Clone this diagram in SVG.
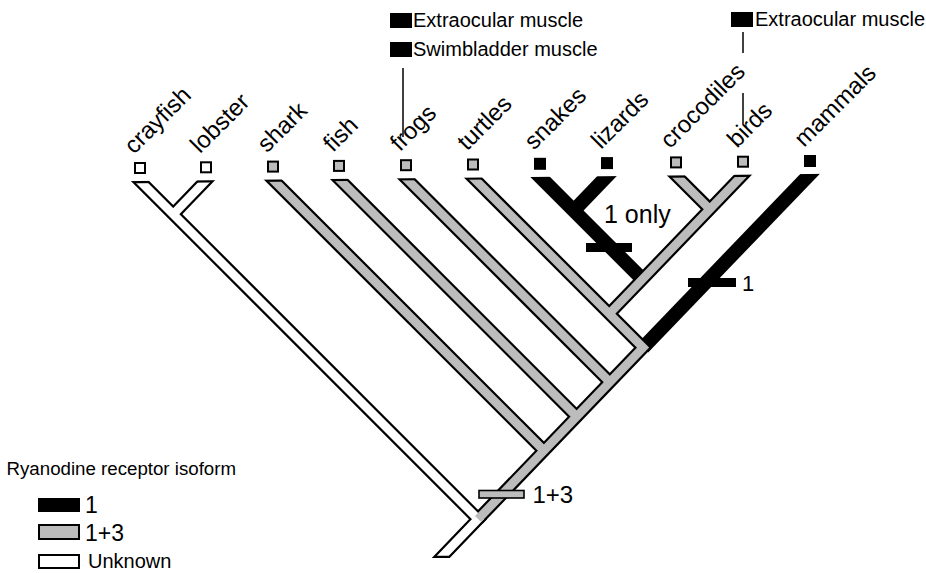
<svg xmlns="http://www.w3.org/2000/svg" width="926" height="573" viewBox="0 0 926 573">
<style>
text{font-family:"Liberation Sans",Arial,Helvetica,sans-serif;fill:#000}
.lab{font-size:24px}
.small{font-size:20px}
.o{fill:none;stroke:#000;stroke-width:13;stroke-linejoin:miter;stroke-miterlimit:4}
.b{fill:none;stroke:#000;stroke-width:14;stroke-linejoin:miter;stroke-miterlimit:4}
.fw{fill:none;stroke:#fff;stroke-width:8.6;stroke-linejoin:miter;stroke-miterlimit:4}
.fg{fill:none;stroke:#bcbcbc;stroke-width:8.6;stroke-linejoin:miter;stroke-miterlimit:4}
.sq{stroke:#000;stroke-width:2}
.w{fill:#fff}.g{fill:#bcbcbc}.k{fill:#000}
.cn{stroke:#000;stroke-width:1.5;fill:none}
</style>
<defs>
<clipPath id="co"><polygon points="0,182.5 926,172.8 926,558 0,558"/></clipPath>
<clipPath id="ci"><polygon points="0,184.7 926,175 926,555.8 0,555.8"/></clipPath>
</defs>
<g id="connectors">
<g clip-path="url(#co)">
<path class="o" d="M128,169 L478.1,519.1 L434,565"/>
<path class="o" d="M218,167.8 L173.3,214.3"/>
<path class="o" d="M261,167.6 L544,450.6"/>
<path class="o" d="M327,166.9 L576.7,416.6"/>
<path class="o" d="M394,166.2 L609.9,382.1"/>
<path class="o" d="M461,165.5 L643.1,347.6 L478.1,519.1"/>
<path class="o" d="M664,163.4 L709.8,209.2"/>
<path class="o" d="M755,162.2 L709.8,209.2 L642.5,279.3 L609.3,313.8"/>
<path class="b" d="M528,164.8 L573.8,210.6 L642.5,279.3"/>
<path class="b" d="M619,163.6 L573.8,210.6"/>
<path class="b" d="M822,161.5 L643.1,347.6"/>
</g>
<g clip-path="url(#ci)">
<path class="fw" d="M128,169 L478.1,519.1 L434,565"/>
<path class="fw" d="M218,167.8 L173.3,214.3"/>
<path class="fg" d="M261,167.6 L544,450.6"/>
<path class="fg" d="M327,166.9 L576.7,416.6"/>
<path class="fg" d="M394,166.2 L609.9,382.1"/>
<path class="fg" d="M461,165.5 L643.1,347.6 L478.1,519.1"/>
<path class="fg" d="M664,163.4 L709.8,209.2"/>
<path class="fg" d="M755,162.2 L709.8,209.2 L642.5,279.3 L609.3,313.8"/>
</g>
<line class="cn" x1="403" y1="68" x2="403" y2="137"/>
<line class="cn" x1="743" y1="32" x2="743" y2="53"/>
<line class="cn" x1="743" y1="93" x2="743" y2="125"/>
</g>
<g id="crayfish"><rect class="sq w" x="135" y="163" width="10" height="10"/><text class="lab" transform="translate(134,155) rotate(-45)">crayfish</text></g>
<g id="lobster"><rect class="sq w" x="201" y="162.3" width="10" height="10"/><text class="lab" transform="translate(200,154.3) rotate(-45)">lobster</text></g>
<g id="shark"><rect class="sq g" x="268" y="161.6" width="10" height="10"/><text class="lab" transform="translate(267,153.6) rotate(-45)">shark</text></g>
<g id="fish"><rect class="sq g" x="334" y="160.9" width="10" height="10"/><text class="lab" transform="translate(333,152.9) rotate(-45)">fish</text></g>
<g id="frogs"><rect class="sq g" x="401" y="160.2" width="10" height="10"/><text class="lab" transform="translate(400,152.2) rotate(-45)">frogs</text></g>
<g id="turtles"><rect class="sq g" x="468" y="159.5" width="10" height="10"/><text class="lab" transform="translate(467,151.5) rotate(-45)">turtles</text></g>
<g id="snakes"><rect class="sq k" x="535" y="158.8" width="10" height="10"/><text class="lab" transform="translate(534,150.8) rotate(-45)">snakes</text></g>
<g id="lizards"><rect class="sq k" x="602" y="158.1" width="10" height="10"/><text class="lab" transform="translate(601,150.1) rotate(-45)">lizards</text></g>
<g id="crocodiles"><rect class="sq g" x="671" y="157.4" width="10" height="10"/><text class="lab" transform="translate(670,149.4) rotate(-45)">crocodiles</text></g>
<g id="birds"><rect class="sq g" x="738" y="156.7" width="10" height="10"/><text class="lab" transform="translate(737,148.7) rotate(-45)">birds</text></g>
<g id="mammals"><rect class="sq k" x="805" y="156" width="10" height="10"/><text class="lab" transform="translate(804,148) rotate(-45)">mammals</text></g>
<g id="muscle-frogs">
<rect x="390" y="13" width="22" height="15" fill="#000"/><text class="small" x="413" y="27">Extraocular muscle</text>
<rect x="390" y="42" width="22" height="15" fill="#000"/><text class="small" x="413" y="56">Swimbladder muscle</text>
</g>
<g id="muscle-birds">
<rect x="731" y="12" width="22" height="15" fill="#000"/><text class="small" x="755" y="26">Extraocular muscle</text>
</g>
<g id="mark-squamates"><rect x="586" y="243" width="46" height="9" fill="#000"/><text x="604" y="223" font-size="25">1 only</text></g>
<g id="mark-mammals"><rect x="688" y="278" width="48" height="9" fill="#000"/><text x="742" y="291" font-size="22">1</text></g>
<g id="mark-vertebrates"><rect x="479" y="490.5" width="45" height="7.5" fill="#bcbcbc" stroke="#000" stroke-width="1.6"/><text x="532.5" y="503" font-size="24">1+3</text></g>
<g id="legend">
<text x="6.5" y="475" font-size="18.7">Ryanodine receptor isoform</text>
<rect x="38" y="498" width="42" height="14" fill="#000"/><text x="85" y="513" font-size="23">1</text>
<rect x="39" y="525" width="40" height="14" fill="#bcbcbc" stroke="#000" stroke-width="2"/><text x="85" y="540.5" font-size="23">1+3</text>
<rect x="39" y="555" width="40" height="13" fill="#fff" stroke="#000" stroke-width="2"/><text x="88" y="568" font-size="20">Unknown</text>
</g>
</svg>
